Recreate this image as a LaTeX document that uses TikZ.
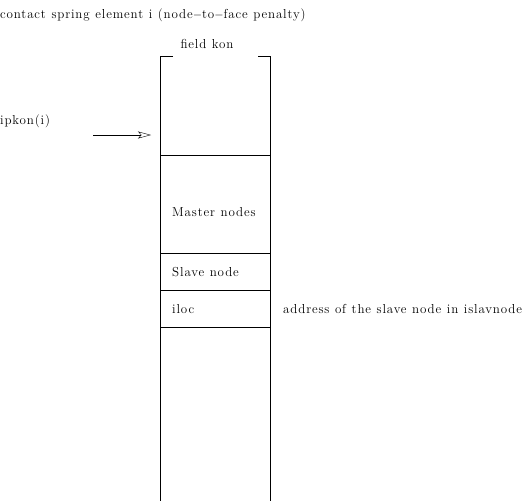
\documentclass[tikz,border=0pt]{standalone}
\usepackage{fontspec}
\newfontfamily\lblfont{Latin Modern Roman}[LetterSpace=6.5,WordSpace=1.1]
\usetikzlibrary{positioning}
\usetikzlibrary{arrows.meta}
\tikzset{lbl/.style={anchor=base west,inner sep=0pt,
  font=\lblfont\fontsize{13}{15}\selectfont}}
\begin{document}
\begin{tikzpicture}[x=1pt,y=-1pt]
\useasboundingbox (0,0) rectangle (532,501);
\node[lbl] (title) at (0,18) {contact spring element i (node$-$to$-$face penalty)};
\node[lbl,anchor=base] (field) at (207,48) {field kon};
\node[lbl] (ipkon) at (0,124) {ipkon(i)};
\draw (173,56) -- (160,56) -- (160,501);
\draw (258,56) -- (270,56) -- (270,501);
\foreach \y in {155,253,290,327} {
\draw (160,\y) -- (270,\y);
}
\coordinate (from) at (93,135);
\coordinate (to) at (151,135);
\draw[-{Stealth[open,length=13pt,width=7pt,inset=3pt]}] (from) -- (to);
\node[lbl] (master) at (172,216) {Master nodes};
\node[lbl] (slave) at (172,276) {Slave node};
\node[lbl] (iloc) at (172,313) {iloc};
\node[lbl] (addr) at (283,313) {address of the slave node in islavnode};
\end{tikzpicture}
\end{document}
